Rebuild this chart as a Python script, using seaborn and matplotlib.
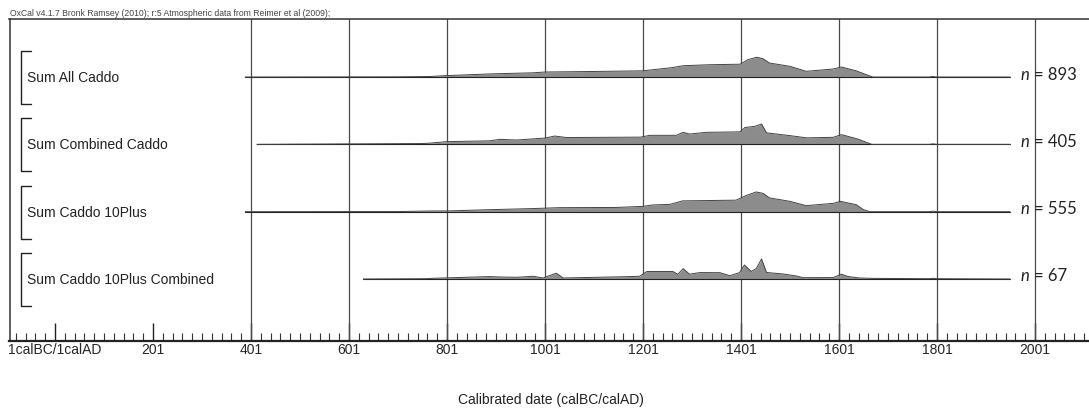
#!/usr/bin/env python3
"""OxCal-style summed probability plot of Caddo radiocarbon dates."""

import matplotlib

matplotlib.use("Agg")
import matplotlib.pyplot as plt
import matplotlib.transforms as mtransforms
import numpy as np
import pandas as pd
import seaborn as sns

# row labels and sample counts
labels = ["Sum All Caddo", "Sum Combined Caddo", "Sum Caddo 10Plus", "Sum Caddo 10Plus Combined"]
counts = [893, 405, 555, 67]
# start of each curve (calAD); every curve ends at 1950
starts = [389, 413, 389, 630]
end_year = 1950

# relative probability (arbitrary units)
years_all = [389, 700, 766, 795, 895, 976, 1001, 1112, 1201, 1262, 1283, 1338, 1399, 1415, 1433,
             1446, 1459, 1501, 1534, 1589, 1606, 1636, 1657, 1670, 1785, 1793, 1800, 1950]
dens_all = [0, 0.2, 0.5, 1.3, 3.2, 4.2, 5.0, 5.6, 6.2, 9.5, 11.3, 12.3, 12.8, 17.3, 19.8,
            18.3, 14.0, 10.7, 5.7, 8.0, 10.0, 6.2, 2.3, 0, 0, 0.5, 0, 0]

years_comb = [413, 663, 751, 766, 801, 888, 909, 943, 1001, 1021, 1045, 1196, 1215, 1269, 1283,
              1296, 1330, 1399, 1409, 1429, 1443, 1453, 1501, 1535, 1589, 1606, 1638, 1668,
              1785, 1793, 1800, 1950]
dens_comb = [0, 0.6, 0.8, 1.2, 2.7, 3.5, 5.0, 4.3, 6.3, 8.3, 6.8, 7.2, 9.0, 9.0, 12.0,
             10.3, 12.0, 12.5, 16.8, 18.0, 20.3, 11.5, 8.7, 6.5, 7.0, 9.7, 5.5, 0,
             0, 0.5, 0, 0]

years_10p = [389, 700, 772, 801, 882, 977, 1031, 1146, 1201, 1221, 1256, 1282, 1317, 1391, 1411,
             1432, 1446, 1459, 1501, 1534, 1589, 1604, 1636, 1651, 1664, 1785, 1793, 1800, 1950]
dens_10p = [0, 0.1, 0.7, 0.7, 1.9, 3.1, 4.0, 4.2, 5.3, 6.7, 7.3, 10.8, 11.0, 11.5, 16.0,
            19.7, 18.3, 13.8, 10.3, 6.0, 8.3, 10.3, 7.0, 2.0, 0, 0, 0.5, 0, 0]

years_10pc = [630, 760, 772, 888, 909, 943, 977, 997, 1024, 1038, 1167, 1194, 1209, 1221, 1262,
              1272, 1283, 1296, 1317, 1358, 1378, 1398, 1408, 1422, 1432, 1443, 1453, 1487,
              1514, 1528, 1589, 1606, 1619, 1643, 1670, 1785, 1793, 1800, 1950]
dens_10pc = [0, 0.3, 0.7, 2.4, 2.0, 1.7, 2.7, 1.0, 5.8, 1.0, 2.3, 2.7, 7.5, 7.5, 7.5,
             4.7, 10.3, 4.8, 6.4, 6.3, 3.3, 6.3, 14.0, 7.5, 10.3, 20.0, 6.5, 5.0,
             3.0, 1.3, 1.4, 4.8, 2.5, 1.0, 0.6, 0.3, 0.7, 0.3, 0]

curves = [(years_all, dens_all), (years_comb, dens_comb), (years_10p, dens_10p), (years_10pc, dens_10pc)]

major_years = list(range(1, 2002, 200))
minor_years = list(range(-79, 2112, 20))
major_labels = ["1calBC/1calAD"] + [str(y) for y in major_years[1:]]

ROW_PX = 67.3  # pixel spacing between rows, density units are pixels


def main():
    sns.set_style("white")
    plt.rcParams["font.family"] = ["Liberation Sans", "DejaVu Sans"]

    fig = plt.figure(figsize=(10.89, 4.12), dpi=100)
    W, H = 1089.0, 412.0
    ax = fig.add_axes([9.5 / W, (H - 340.5) / H, 1 - 9.5 / W, (340.5 - 18.5) / H])

    frames = []
    for i, (yrs, dens) in enumerate(curves):
        d = pd.DataFrame({"year": yrs, "dens": dens})
        d["row"] = i
        d["top"] = i - d["dens"] / ROW_PX
        frames.append(d)
    df = pd.concat(frames, ignore_index=True)

    # vertical grid lines from 401 onward
    for yr in major_years[2:]:
        ax.axvline(yr, color="#4a4a4a", lw=0.9, zorder=1)

    for i, d in df.groupby("row"):
        ax.fill_between(d["year"], i, d["top"], color="#8c8c8c", lw=0, zorder=2)
        ax.plot([starts[i], end_year], [i, i], color="#222222", lw=0.8, zorder=3)

    sns.lineplot(data=df, x="year", y="top", units="row", estimator=None, sort=False,
                 color="#444444", lw=0.7, legend=False, ax=ax, zorder=3)

    # brackets and labels on the left, n counts on the right
    trans = mtransforms.blended_transform_factory(ax.transAxes, ax.transData)
    bx0, bx1 = 11.2 / 1079.5, 21.5 / 1079.5
    for i, lab in enumerate(labels):
        top, bot = i - 26 / ROW_PX, i + 27 / ROW_PX
        ax.plot([bx1, bx0, bx0, bx1], [top, top, bot, bot], color="#222222", lw=1.0,
                transform=trans, clip_on=False, zorder=4)
        ax.text(17.5 / 1079.5, i + 1 / ROW_PX, lab, transform=trans, fontsize=10,
                ha="left", va="center", color="#222222")
        ax.text(1971, i - 2.5 / ROW_PX, "n", fontsize=12, style="italic",
                family=["Lato", "DejaVu Sans"], ha="left", va="center", color="#222222")
        ax.text(1999, i - 2.5 / ROW_PX, f"= {counts[i]}", fontsize=12,
                family=["Lato", "DejaVu Sans"], ha="left", va="center", color="#222222")

    ax.set_xlim(-91.8, 2111.2)
    ax.set_ylim(3 + 61.5 / ROW_PX, -58.5 / ROW_PX)
    ax.set_yticks([])
    ax.set_xticks(major_years)
    ax.set_xticklabels(major_labels, fontsize=10)
    ax.set_xticks(minor_years, minor=True)
    ax.tick_params(axis="x", which="major", direction="in", length=13, width=1.0,
                   pad=2, color="#222222", bottom=True)
    ax.tick_params(axis="x", which="minor", direction="in", length=6, width=0.8,
                   color="#333333", bottom=True)
    ax.set_xlabel("")
    ax.set_ylabel("")

    for side in ["top", "left"]:
        ax.spines[side].set_color("#333333")
        ax.spines[side].set_linewidth(1.1)
    ax.spines["bottom"].set_color("#222222")
    ax.spines["bottom"].set_linewidth(1.6)
    ax.spines["right"].set_visible(False)

    fig.text(551 / W, (H - 400) / H, "Calibrated date (calBC/calAD)", fontsize=10,
             ha="center", va="center", color="#222222")
    fig.text(10 / W, (H - 13) / H,
             "OxCal v4.1.7 Bronk Ramsey (2010); r:5 Atmospheric data from Reimer et al (2009);",
             fontsize=6.2, ha="left", va="center", color="#444444")

    fig.savefig("out.png", dpi=100)
    plt.close(fig)


if __name__ == "__main__":
    main()
